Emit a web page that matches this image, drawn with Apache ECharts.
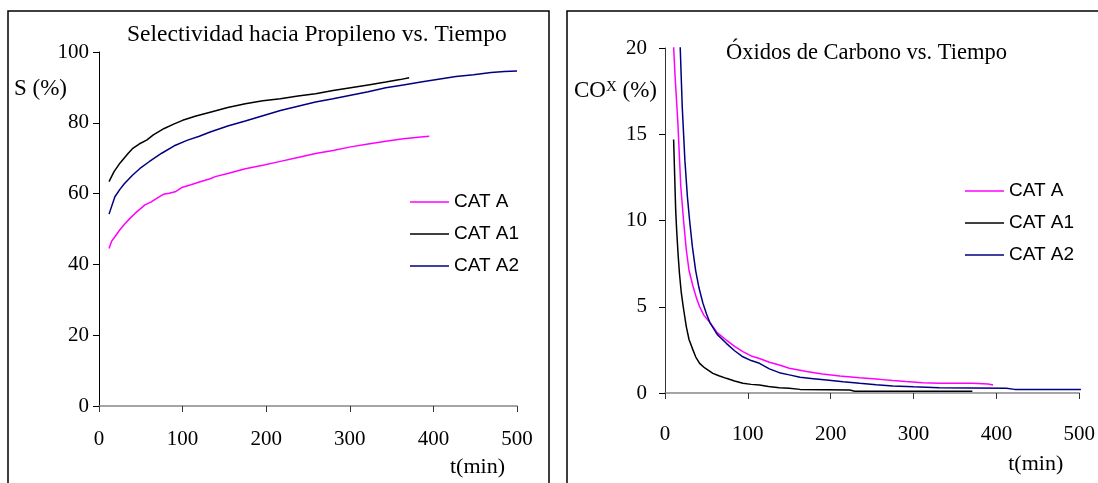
<!DOCTYPE html>
<html>
<head>
<meta charset="utf-8">
<script src="https://cdn.jsdelivr.net/npm/echarts@6/dist/echarts.min.js"></script>
<style>
  html, body { margin: 0; padding: 0; background: #fff; }
  #chart { width: 1098px; height: 483px; }
</style>
</head>
<body>
<div id="chart"></div>
<script>
// Selectividad hacia Propileno (S %) vs tiempo (min)
var selTimeA = [12, 15, 19, 25, 31, 37, 43, 49, 55, 62, 70, 77, 84, 91, 99, 110, 120, 133, 139, 154, 175, 196, 217, 238, 259, 280, 301, 322, 343, 364, 385, 395];
var selA = [44.5, 46.5, 47.8, 49.8, 51.5, 53, 54.4, 55.6, 56.8, 57.6, 58.8, 59.8, 60.1, 60.5, 61.7, 62.5, 63.3, 64.2, 64.8, 65.7, 67.0, 68.0, 69.1, 70.2, 71.3, 72.2, 73.2, 74.0, 74.8, 75.5, 76.0, 76.2];
var selTimeA1 = [12, 18, 25, 30, 35, 40, 48, 57, 65, 78, 90, 100, 116, 133, 154, 175, 196, 217, 238, 259, 280, 301, 322, 343, 360, 371];
var selA1 = [63.4, 66.2, 68.6, 70, 71.4, 72.7, 74, 75.1, 76.6, 78.4, 79.7, 80.7, 81.9, 83.0, 84.3, 85.4, 86.2, 86.8, 87.6, 88.2, 89.1, 89.9, 90.7, 91.5, 92.2, 92.7];
var selTimeA2 = [12, 19, 25, 30, 40, 49, 60, 75, 90, 106, 120, 133, 154, 175, 196, 217, 238, 259, 280, 301, 322, 343, 364, 385, 406, 427, 448, 469, 485, 500];
var selA2 = [54.2, 59.1, 61.2, 62.7, 65.2, 67.1, 69, 71.4, 73.5, 75.1, 76.2, 77.4, 79.1, 80.5, 82.0, 83.5, 84.7, 85.9, 86.8, 87.8, 88.8, 89.9, 90.7, 91.5, 92.3, 93.1, 93.6, 94.2, 94.5, 94.6];

// Oxidos de carbono (COx %) vs tiempo (min)
var coxTimeA = [10, 12, 15.6, 19, 22.4, 25.7, 29, 33.7, 38, 41.8, 47, 54, 63, 74, 84, 94, 104, 114, 126, 138, 150, 171, 190, 211, 235, 259, 275, 291, 311, 331, 371, 390, 396];
var coxA = [20.5, 18.5, 15.6, 12, 10, 8.3, 7.1, 6.2, 5.5, 5.0, 4.5, 4.1, 3.5, 3.07, 2.7, 2.4, 2.15, 2.0, 1.78, 1.62, 1.43, 1.24, 1.1, 0.99, 0.88, 0.79, 0.72, 0.66, 0.6, 0.56, 0.56, 0.52, 0.46];
var coxTimeA1 = [10.4, 12.9, 14, 15.7, 17.5, 19.7, 22, 25.7, 29, 33.7, 37, 41.8, 48, 57.8, 65, 74, 84, 94, 104, 114, 125, 138, 150, 163, 195, 223, 229, 300, 371];
var coxA1 = [14.7, 10.6, 9.5, 8.1, 6.9, 5.8, 5.0, 3.85, 3.1, 2.5, 2.1, 1.72, 1.45, 1.14, 1.0, 0.85, 0.7, 0.56, 0.5, 0.46, 0.38, 0.31, 0.28, 0.21, 0.19, 0.17, 0.1, 0.1, 0.1];
var coxTimeA2 = [17, 18.4, 20.8, 24, 27, 29.7, 33, 37, 41, 45.8, 50, 54, 63, 74, 84, 94, 104, 114, 126, 138, 150, 163, 179, 195, 215, 235, 255, 275, 300, 331, 370, 412, 422, 502];
var coxA2 = [22, 20, 16.6, 13.5, 11.4, 10, 8.5, 7.1, 6.1, 5.2, 4.6, 4.1, 3.4, 2.88, 2.45, 2.1, 1.88, 1.72, 1.4, 1.18, 1.05, 0.91, 0.83, 0.75, 0.65, 0.56, 0.48, 0.41, 0.36, 0.31, 0.29, 0.27, 0.21, 0.21];

var seriesNames = ['CAT A', 'CAT A1', 'CAT A2'];
var seriesColors = ['#ff00ff', '#000000', '#000080'];
var xTicks = [0, 100, 200, 300, 400, 500];

function pairs(t, v) {
  var out = [];
  for (var i = 0; i < t.length; i++) out.push([t[i], v[i]]);
  return out;
}

var serif = 'Liberation Serif, Times New Roman, serif';
var sans = 'Liberation Sans, Arial, sans-serif';

function makeLine(name, idx, data, grid) {
  return {
    name: name,
    type: 'line',
    xAxisIndex: grid,
    yAxisIndex: grid,
    data: data,
    symbol: 'none',
    showSymbol: false,
    clip: true,
    lineStyle: { color: seriesColors[idx], width: 1.5 },
    itemStyle: { color: seriesColors[idx] }
  };
}

function xAxisOf(grid, gap, pad, namePad) {
  return {
    type: 'value',
    gridIndex: grid,
    min: xTicks[0],
    max: xTicks[xTicks.length - 1],
    interval: 100,
    splitLine: { show: false },
    axisLine: { lineStyle: { color: '#888', width: 1.5 } },
    axisTick: { length: 6, lineStyle: { color: '#333' } },
    axisLabel: { color: '#000', fontFamily: serif, fontSize: 21, margin: pad },
    name: 't(min)',
    nameLocation: 'end',
    nameGap: gap,
    nameTextStyle: { color: '#000', fontFamily: serif, fontSize: 22, align: 'right', verticalAlign: 'top', padding: [namePad, 0, 0, 0] }
  };
}

function legendAt(left, top) {
  return {
    data: seriesNames.map(function (n) { return { name: n, icon: 'rect' }; }),
    orient: 'vertical', left: left, top: top, padding: 0,
    itemWidth: 39, itemHeight: 1.5, itemGap: 12,
    textStyle: { fontFamily: sans, fontSize: 19, lineHeight: 20, color: '#000' }
  };
}

var chart = echarts.init(document.getElementById('chart'));
chart.setOption({
  animation: false,
  backgroundColor: '#fff',
  title: [
    { text: 'Selectividad hacia Propileno vs. Tiempo', left: 127, top: 23, padding: 0,
      textStyle: { fontFamily: serif, fontSize: 23.5, fontWeight: 'normal', color: '#000' } },
    { text: 'Óxidos de Carbono vs. Tiempo', left: 726, top: 42, padding: 0,
      textStyle: { fontFamily: serif, fontSize: 22.5, fontWeight: 'normal', color: '#000' } }
  ],
  graphic: [
    { type: 'rect', shape: { x: 8, y: 11, width: 541, height: 520 }, style: { fill: 'none', stroke: '#000', lineWidth: 1.5 } },
    { type: 'rect', shape: { x: 567, y: 11, width: 600, height: 520 }, style: { fill: 'none', stroke: '#000', lineWidth: 1.5 } }
  ],
  legend: [legendAt(410, 192), legendAt(965, 181)],
  grid: [
    { left: 99, top: 52, width: 418, height: 354 },
    { left: 665, top: 48, width: 415, height: 345 }
  ],
  xAxis: [xAxisOf(0, -12, 23, 50), xAxisOf(1, -16, 31, 60)],
  yAxis: [
    {
      type: 'value', gridIndex: 0, min: 0, max: 100, interval: 20,
      splitLine: { show: false },
      axisLine: { show: true, lineStyle: { color: '#000', width: 1 } },
      axisTick: { show: true, length: 6, lineStyle: { color: '#000' } },
      axisLabel: { color: '#000', fontFamily: serif, fontSize: 21, margin: 10 },
      name: 'S (%)', nameLocation: 'end', nameGap: -37,
      nameTextStyle: { color: '#000', fontFamily: serif, fontSize: 23, align: 'right', verticalAlign: 'middle', padding: [0, 32, 0, 0] }
    },
    {
      type: 'value', gridIndex: 1, min: 0, max: 20, interval: 5,
      splitLine: { show: false },
      axisLine: { show: true, lineStyle: { color: '#333', width: 1 } },
      axisTick: { show: true, length: 6, lineStyle: { color: '#000' } },
      axisLabel: { color: '#000', fontFamily: serif, fontSize: 21, margin: 18 },
      name: '{n|CO}{s|X}{n| (%)}', nameLocation: 'end', nameGap: -43,
      nameTextStyle: {
        align: 'right', verticalAlign: 'middle', padding: [0, 8, 0, 0],
        rich: {
          n: { color: '#000', fontFamily: serif, fontSize: 23 },
          s: { color: '#000', fontFamily: serif, fontSize: 15, verticalAlign: 'top', padding: [0, 0, 8, 0] }
        }
      }
    }
  ],
  series: [
    makeLine('CAT A', 0, pairs(selTimeA, selA), 0),
    makeLine('CAT A1', 1, pairs(selTimeA1, selA1), 0),
    makeLine('CAT A2', 2, pairs(selTimeA2, selA2), 0),
    makeLine('CAT A', 0, pairs(coxTimeA, coxA), 1),
    makeLine('CAT A1', 1, pairs(coxTimeA1, coxA1), 1),
    makeLine('CAT A2', 2, pairs(coxTimeA2, coxA2), 1)
  ]
});
</script>
</body>
</html>
